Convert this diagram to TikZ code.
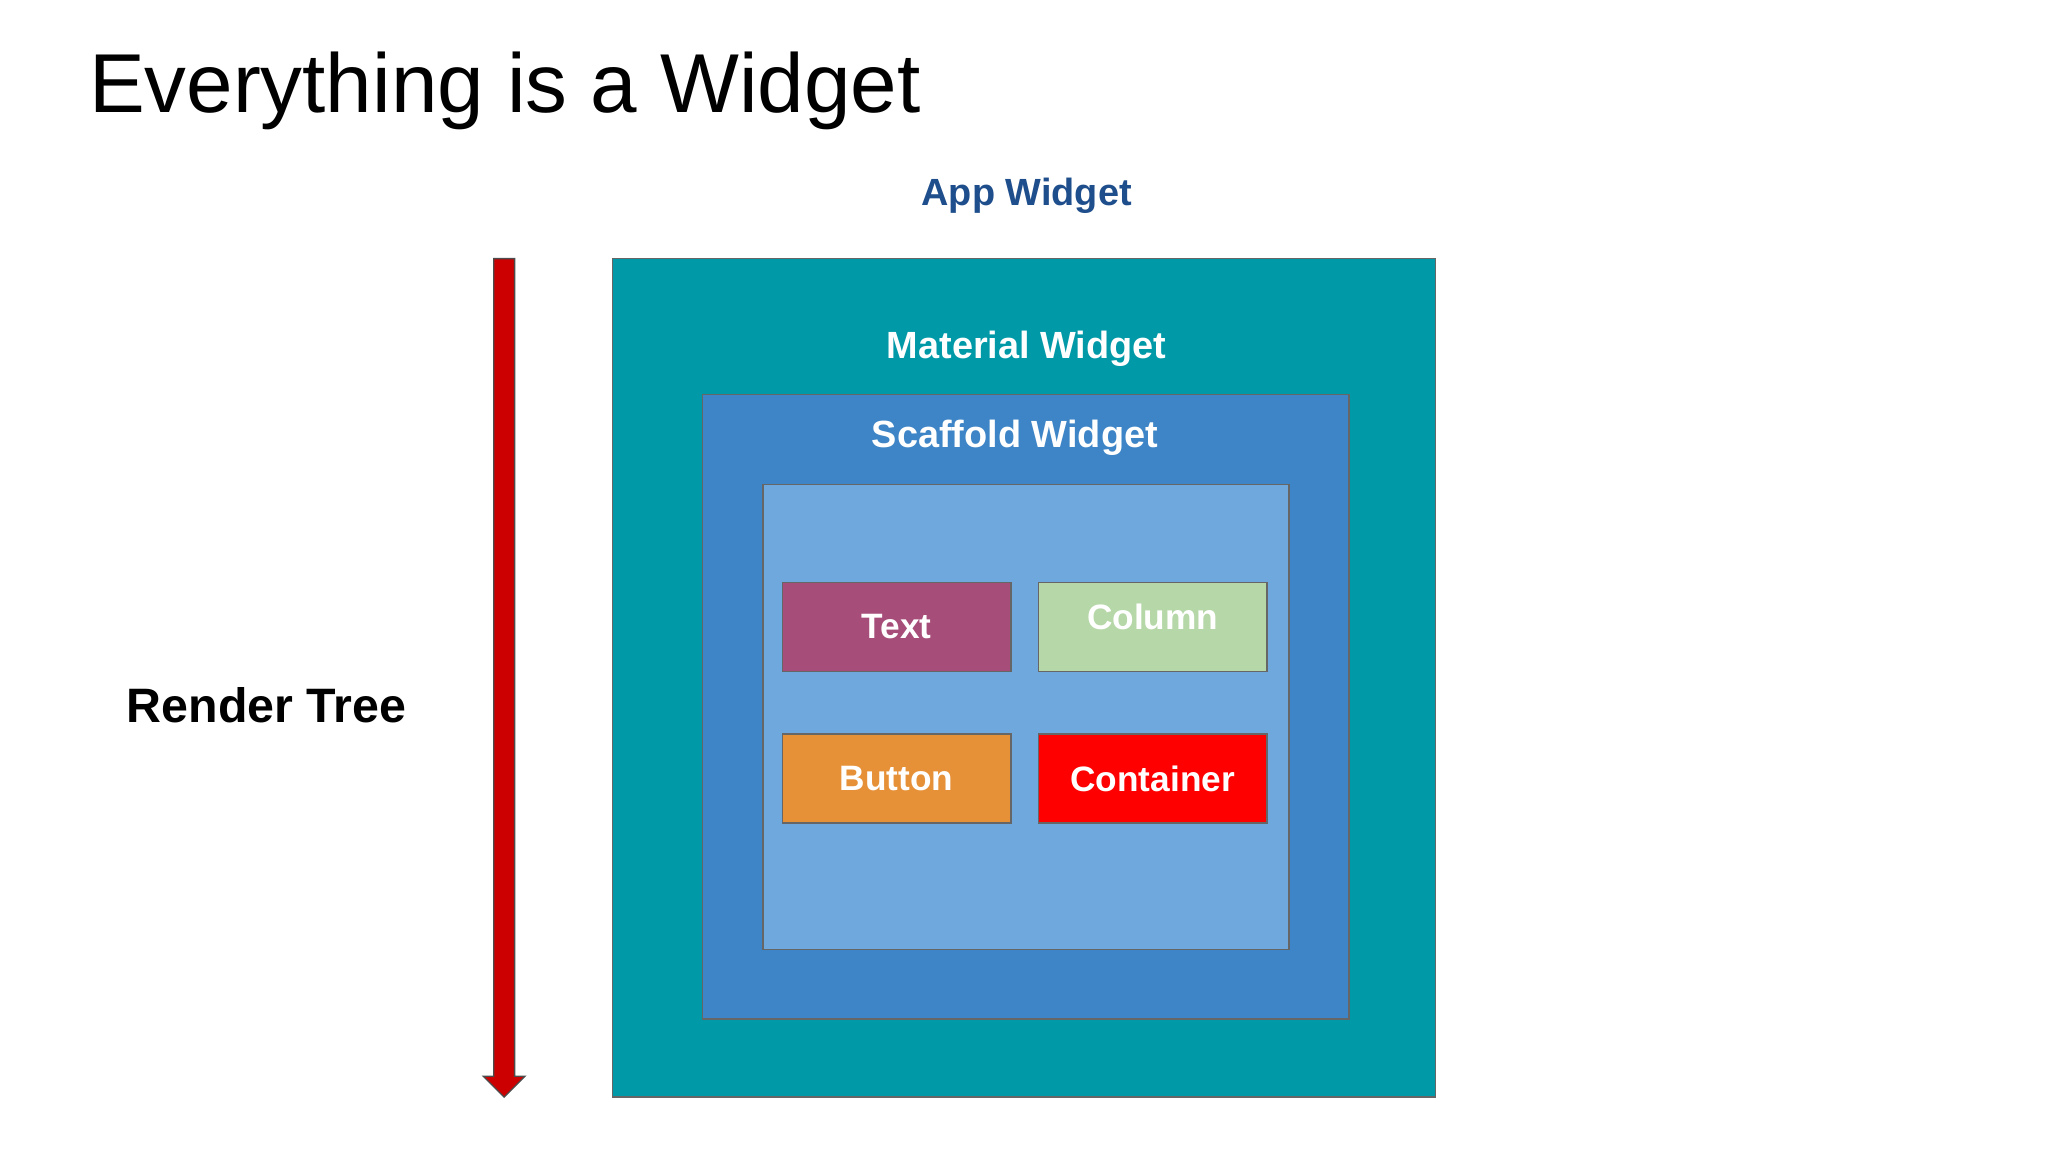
\documentclass[tikz,border=0pt]{standalone}
\usepackage{fontspec}
\setmainfont{Liberation Sans}
\definecolor{teal1}{HTML}{0099A8}
\definecolor{scaf}{HTML}{3D85C6}
\definecolor{inner}{HTML}{6FA8DC}
\definecolor{textc}{HTML}{A64D79}
\definecolor{colc}{HTML}{B6D7A8}
\definecolor{butc}{HTML}{E69138}
\definecolor{appblue}{HTML}{1F4E8C}
\definecolor{arrred}{HTML}{CC0000}
\begin{document}
\begin{tikzpicture}[x=1pt,y=-1pt,
  box/.style={draw=black!60,line width=1.2pt},
  lbl/.style={text=white,font=\fontsize{27}{30}\selectfont\bfseries}]
\useasboundingbox (0,0) rectangle (1568,882);
\fill[white] (0,0) rectangle (1568,882);
\node[anchor=base west,inner sep=0,font=\fontsize{64}{70}\selectfont] (title) at (68,86) {Everything is a Widget};
\node[font=\fontsize{29}{32}\selectfont\bfseries,text=appblue] (app) at (786,150) {App Widget};
\draw[box,fill=teal1] (469,198) rectangle (1099,840);
\node[lbl,font=\fontsize{29}{32}\selectfont\bfseries] (mat) at (786,267) {Material Widget};
\draw[box,fill=scaf] (538,302) rectangle (1033,780);
\node[lbl,font=\fontsize{29}{32}\selectfont\bfseries] (sca) at (777,335) {Scaffold Widget};
\draw[box,fill=inner] (584,371) rectangle (987,727);
\draw[box,fill=textc] (599,446) rectangle (774,514);
\node[lbl] (t) at (686.5,480) {Text};
\draw[box,fill=colc] (795,446) rectangle (970,514);
\node[lbl] (c) at (882.5,472) {Column};
\draw[box,fill=butc] (599,562) rectangle (774,630);
\node[lbl] (b) at (686.5,596) {Button};
\draw[box,fill=red] (795,562) rectangle (970,630);
\node[lbl] (k) at (882.5,596) {Container};
\draw[fill=arrred,draw=black!70,line width=1pt] (378,198) -- (394,198) -- (394,824) -- (402,824) -- (386,840) -- (370,824) -- (378,824) -- cycle;
\node[font=\fontsize{37}{40}\selectfont\bfseries] (rt) at (204,540) {Render Tree};
\end{tikzpicture}
\end{document}
